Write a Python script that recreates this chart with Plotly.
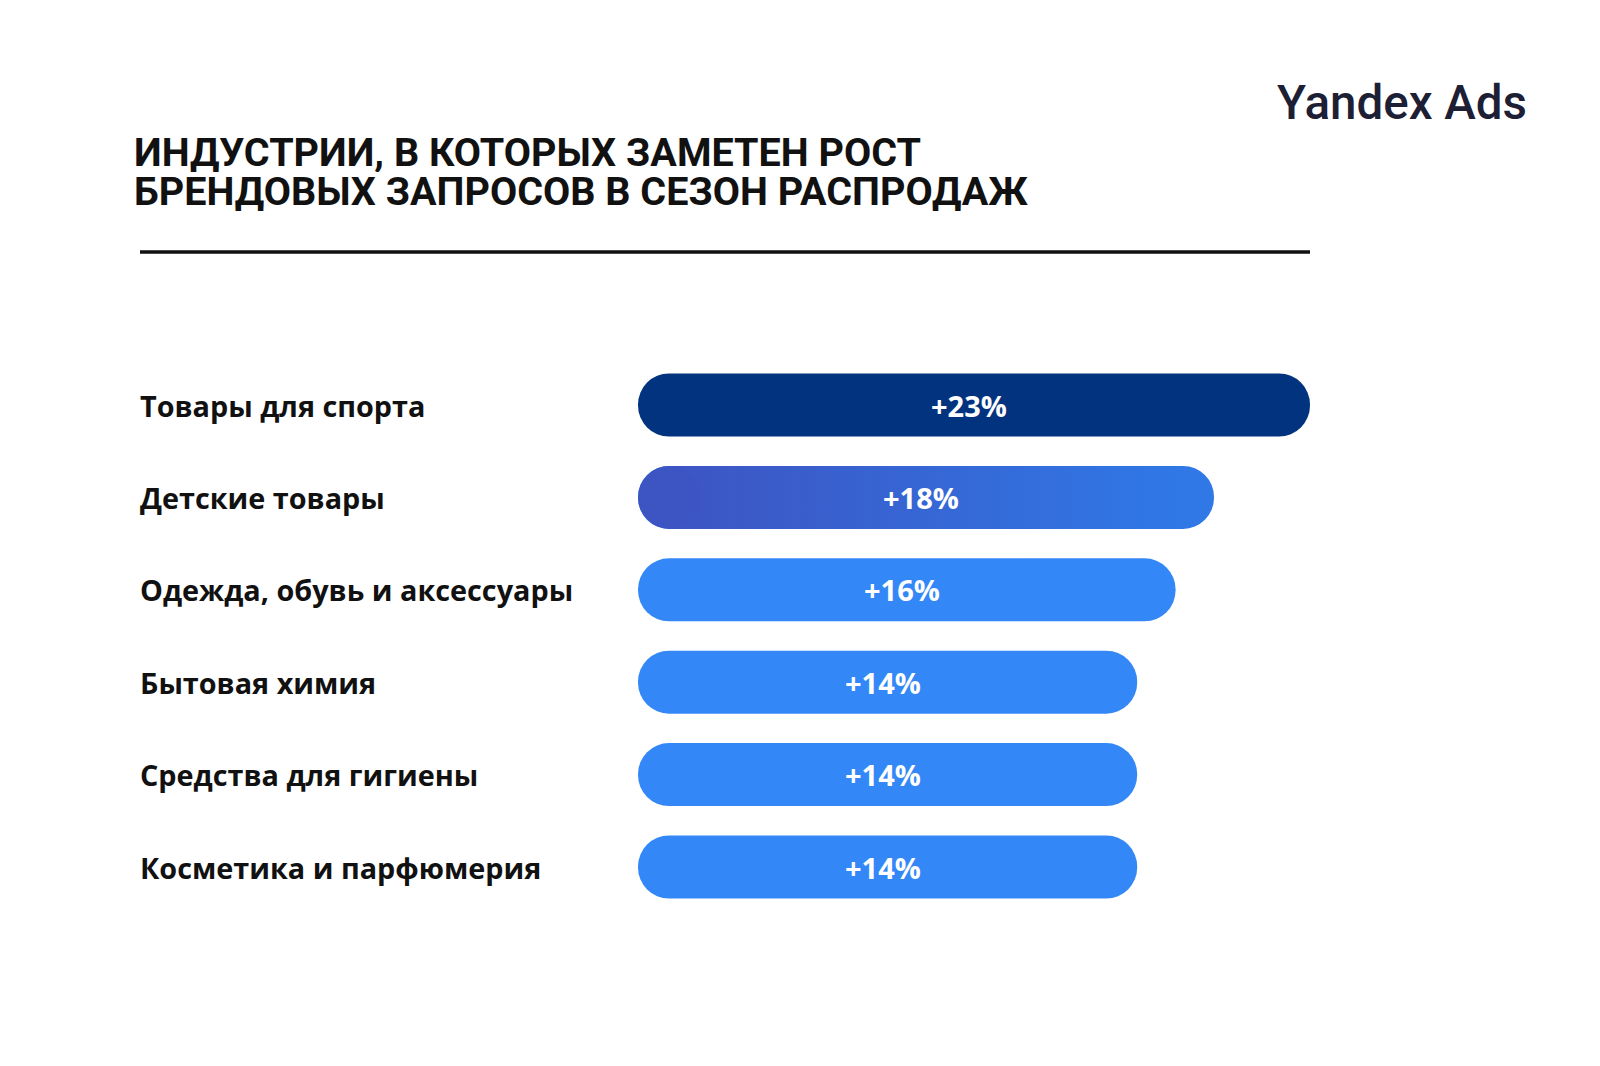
import plotly.graph_objects as go

# Данные
categories = ["Товары для спорта", "Детские товары", "Одежда, обувь и аксессуары",
              "Бытовая химия", "Средства для гигиены", "Косметика и парфюмерия"]
growth = [23, 18, 16, 14, 14, 14]
growth_labels = ["+23%", "+18%", "+16%", "+14%", "+14%", "+14%"]
bar_colors = ["#02337f", "#2f78e6", "#3387f7", "#3387f7", "#3387f7", "#3387f7"]
gradient_from, gradient_to = "#3d55c3", "#2f78e6"

title_lines = ["ИНДУСТРИИ, В КОТОРЫХ ЗАМЕТЕН РОСТ", "БРЕНДОВЫХ ЗАПРОСОВ В СЕЗОН РАСПРОДАЖ"]
logo = "Yandex Ads"

# Геометрия
W, H = 1600, 1066
BASE = -12          # общая точка начала полос
PX_PER_UNIT = 19.2
BAR_LEFT_PX = 630
BAR_PX = 63
ROW_PX = 92.4
FIRST_ROW_PX = 397

x0 = BASE - BAR_LEFT_PX / PX_PER_UNIT
x1 = x0 + W / PX_PER_UNIT
y_top = -FIRST_ROW_PX / ROW_PX
y_bottom = y_top + H / ROW_PX
bar_w = BAR_PX / ROW_PX
cap_units = (BAR_PX / 2) / PX_PER_UNIT

idx = list(range(len(categories)))

fig = go.Figure()

fig.add_trace(go.Bar(
    x=[v - BASE for v in growth], base=BASE, y=idx, orientation="h",
    width=bar_w, marker=dict(color=bar_colors, line=dict(width=0)),
    hoverinfo="skip", showlegend=False,
))

# градиент на второй полосе
i = 1
gl, gr = BASE + cap_units, growth[i] - cap_units
gx = [gl, gr, gr, gl, gl]
gy = [i - bar_w / 2, i - bar_w / 2, i + bar_w / 2, i + bar_w / 2, i - bar_w / 2]
fig.add_trace(go.Scatter(
    x=gx, y=gy, mode="lines", fill="toself", line=dict(width=0),
    fillgradient=dict(type="horizontal",
                      colorscale=[[0, gradient_from], [1, gradient_to]]),
    hoverinfo="skip", showlegend=False,
))
fig.add_trace(go.Scatter(
    x=[gl], y=[i], mode="markers",
    marker=dict(size=BAR_PX, color=gradient_from, line=dict(width=0)),
    hoverinfo="skip", showlegend=False,
))

annotations = []
for i, (cat, v, lab) in enumerate(zip(categories, growth, growth_labels)):
    annotations.append(dict(
        x=130 / W, xref="paper", y=i, yref="y", text=cat, showarrow=False,
        xanchor="left", yanchor="middle",
        font=dict(family="Open Sans", size=28.8, color="#111111", weight=700),
    ))
    annotations.append(dict(
        x=(BASE + v) / 2, xref="x", y=i, yref="y", text=lab, showarrow=False,
        xanchor="center", yanchor="middle", xshift=-5,
        font=dict(family="Open Sans", size=29, color="white", weight=700),
    ))

for j, line in enumerate(title_lines):
    annotations.append(dict(
        x=124 / W, xref="paper", y=1 - (144 + 39 * j) / H, yref="paper",
        text=line, showarrow=False, xanchor="left", yanchor="middle",
        height=39, valign="middle",
        font=dict(family="Roboto", size=39.5, color="#111111", weight=700),
    ))

annotations.append(dict(
    x=1521 / W, xref="paper", y=1 - 95 / H, yref="paper", text=logo,
    showarrow=False, xanchor="right", yanchor="middle",
    font=dict(family="Roboto", size=47.5, color="#1d2034", weight=500),
))

fig.update_layout(
    width=W, height=H, autosize=False,
    margin=dict(l=0, r=0, t=0, b=0),
    paper_bgcolor="white", plot_bgcolor="white",
    barcornerradius="50%",
    xaxis=dict(range=[x0, x1], visible=False, fixedrange=True),
    yaxis=dict(range=[y_bottom, y_top], visible=False, fixedrange=True),
    annotations=annotations,
    shapes=[dict(type="line", xref="paper", yref="paper",
                 x0=132 / W, x1=1302 / W, y0=1 - 244 / H, y1=1 - 244 / H,
                 line=dict(color="#111111", width=3.5))],
    hovermode=False,
)

fig.write_html("out.html")
